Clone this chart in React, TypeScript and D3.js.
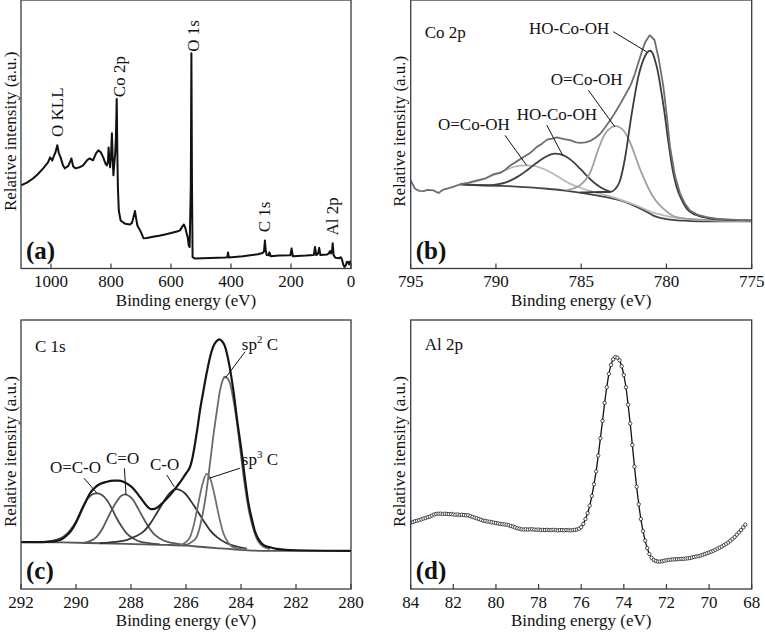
import React from "react";
import * as d3 from "d3";

const FONT = "Liberation Serif";
type Pt = [number, number];

// ---------------- (a) survey ----------------
const SURVEY: Pt[] = [
  [1100, 31.0], [1080, 32.0], [1059, 33.6], [1045, 35.0], [1026, 37.3], [1010, 39.5], [1003, 41.4],
  [996, 40.2], [990, 42.0], [985, 43.3], [979, 45.9], [974, 43.0], [968, 41.4], [960, 38.4],
  [954, 37.3], [948, 37.8], [943, 38.1], [937, 39.5], [932, 41.0], [926, 38.0], [918, 37.3],
  [905, 37.7], [893, 38.4], [880, 40.3], [871, 41.0], [860, 40.3], [850, 42.9], [842, 44.0],
  [834, 43.3], [826, 41.4], [818, 39.0], [814, 38.4], [810, 40.0], [808, 45.1], [805, 39.5],
  [803, 37.7], [800, 42.0], [797, 50.4], [794, 40.0], [792, 34.7], [789, 39.0], [786, 43.0],
  [784, 47.8], [782, 57.0], [781, 63.1], [780, 55.0], [779, 44.0], [777, 30.2], [774, 21.6],
  [768, 17.9], [760, 17.2], [753, 16.7], [737, 16.4], [730, 17.0], [726, 18.7], [720, 21.4],
  [716, 18.5], [712, 16.0], [709, 15.4], [703, 14.2], [698, 13.0], [692, 11.3], [680, 11.4],
  [660, 11.8], [640, 12.2], [620, 12.7], [600, 13.2], [580, 13.8], [570, 14.2], [563, 15.5],
  [557, 16.4], [552, 15.0], [548, 13.1], [544, 11.5], [541, 8.6], [538, 8.0], [534, 30],
  [532, 80.2], [530, 30], [528, 4.2], [520, 3.7], [470, 3.9], [420, 4.1], [412, 4.2], [410, 6.0],
  [407, 4.1], [360, 4.6], [310, 5.3], [295, 5.8], [290, 6.3], [287, 10.4], [284, 6.5], [281, 5.0],
  [275, 4.9], [272, 6.0], [268, 4.6], [240, 4.8], [202, 4.9], [198, 7.5], [194, 4.6], [150, 4.8],
  [124, 5.0], [120, 8.0], [116, 5.0], [110, 5.5], [106, 7.7], [102, 5.0], [80, 5.2], [74, 5.6],
  [70, 6.5], [66, 5.6], [63, 7.0], [61, 9.4], [58, 5.0], [52, 4.0], [40, 3.8], [34, 4.2], [30, 3.4],
  [26, 1.5], [22, 0.6], [18, 1.0], [14, 2.4], [10, 2.5], [6, 1.5], [3, 2.6], [0, 1.7],
];
const SURVEY_TICKS = [1000, 800, 600, 400, 200, 0];
const SURVEY_LABELS: { text: string; at: Pt }[] = [
  { text: "O KLL", at: [959, 49] },
  { text: "Co 2p", at: [754, 63.8] },
  { text: "O 1s", at: [507, 80.7] },
  { text: "C 1s", at: [269, 13.5] },
  { text: "Al 2p", at: [44, 12.3] },
];

// ---------------- (b) Co 2p ----------------
const CO_RAW: Pt[] = [
  [795, 32.8], [794.75, 29.7], [794.5, 28.9], [794.25, 28.8], [794.0, 29.3], [793.67, 29.1],
  [793.37, 28.1], [793.08, 29.4], [792.6, 30.2], [792.1, 31.3], [791.6, 32.0], [791.1, 32.8],
  [790.6, 33.6], [790.14, 35.1], [789.75, 35.6], [789.45, 36.8], [789.16, 38.4], [788.8, 39.8],
  [788.38, 41.5], [788.0, 43.0], [787.6, 45.3], [787.3, 46.5], [787.0, 48.0], [786.7, 48.4],
  [786.43, 48.8], [786.0, 48.2], [785.65, 47.8], [785.3, 47.0], [785.06, 46.8], [784.75, 47.0],
  [784.47, 47.5], [784.15, 48.8], [783.88, 50.2], [783.6, 52.5], [783.3, 55.2], [783.0, 58.2],
  [782.7, 61.4], [782.4, 64.8], [782.1, 68.3], [781.85, 72.5], [781.63, 77.0], [781.43, 81.0],
  [781.24, 84.4], [780.98, 86.9], [780.7, 85.1], [780.45, 78.0], [780.18, 67.7], [780.0, 58.0],
  [779.79, 45.3], [779.5, 34.5], [779.2, 27.9], [778.9, 24.0], [778.62, 21.6], [778.2, 20.1],
  [777.64, 19.1], [777.0, 18.5], [776.4, 18.3], [775.7, 18.0], [775.0, 17.9],
];
const CO_BG: Pt[] = [
  [792.1, 31.3], [791, 31.0], [790, 30.8], [789, 30.6], [788, 30.2], [787, 29.7], [786.05, 29.1],
  [785, 28.2], [784.1, 27.2], [783.4, 26.4], [782.7, 25.4], [782.1, 24.0], [781.55, 22.4],
  [781.1, 20.9], [780.8, 19.8], [780.3, 18.8], [779.8, 18.2], [779, 17.8], [778.2, 17.6], [775, 17.6],
];
const CO_HO_781: Pt[] = [
  [785.06, 28.3], [784.48, 28.4], [783.9, 28.5], [783.31, 28.5], [783.0, 29.6], [782.72, 32.8],
  [782.53, 37.8], [782.38, 43.0], [782.24, 49.0], [782.09, 55.5], [781.94, 61.4], [781.8, 66.5],
  [781.65, 71.4], [781.5, 75.0], [781.36, 77.6], [781.15, 80.3], [780.96, 81.1], [780.8, 80.0],
  [780.67, 77.6], [780.52, 73.8], [780.38, 68.9], [780.23, 63.0], [780.08, 56.5], [779.94, 49.5],
  [779.79, 42.8], [779.6, 35.5], [779.4, 30.3], [779.1, 25.5], [778.81, 22.3], [778.3, 20.0],
  [777.84, 19.1], [777, 18.3], [775, 17.9],
];
const CO_OCO_783: Pt[] = [
  [785.85, 29.2], [785.45, 29.8], [785.07, 31.0], [784.75, 33.0], [784.48, 35.6], [784.28, 39.0],
  [784.09, 42.8], [783.9, 46.0], [783.7, 49.0], [783.5, 51.0], [783.31, 52.2], [783.1, 52.9],
  [782.96, 53.0], [782.75, 52.6], [782.53, 51.5], [782.33, 49.6], [782.14, 47.1], [781.94, 43.8],
  [781.74, 40.3], [781.55, 37.0], [781.36, 34.1], [781.05, 29.8], [780.77, 26.6], [780.45, 24.0],
  [780.18, 22.3], [779.8, 20.3], [779.4, 19.1], [778.7, 18.5], [778.03, 18.2], [776.5, 17.9], [775, 17.7],
];
const CO_HO_786: Pt[] = [
  [792.1, 31.3], [791.2, 31.1], [790.35, 31.0], [789.85, 31.4], [789.37, 32.2], [788.98, 33.3],
  [788.59, 34.7], [788.2, 36.5], [787.81, 38.4], [787.4, 40.3], [787.02, 41.8], [786.78, 42.5],
  [786.54, 42.8], [786.2, 42.5], [785.85, 41.5], [785.45, 39.6], [785.07, 37.2], [784.68, 34.6],
  [784.29, 32.2], [783.8, 30.0], [783.31, 28.6],
];
const CO_OCO_788: Pt[] = [
  [792.1, 31.3], [791.5, 32.0], [790.94, 32.8], [790.45, 34.0], [789.96, 35.3], [789.47, 36.6],
  [788.98, 37.8], [788.6, 38.3], [788.2, 38.4], [787.8, 38.2], [787.42, 37.6], [787.03, 36.6],
  [786.64, 35.3], [786.25, 33.8], [785.85, 32.2], [785.36, 30.8], [784.88, 29.7], [784.2, 28.4],
  [783.5, 27.2], [782.5, 25.2], [781.55, 22.9], [780.8, 20.8], [780.18, 19.8], [779.2, 18.7],
  [778.23, 18.2], [775, 17.6],
];
const CO_TICKS = [795, 790, 785, 780, 775];
const CO_LABELS: { text: string; at: Pt; from: Pt; to: Pt }[] = [
  { text: "HO-Co-OH", at: [788.06, 87.3], from: [783.12, 88.2], to: [781.16, 80.7] },
  { text: "O=Co-OH", at: [786.79, 68.3], from: [784.58, 66.4], to: [783.02, 52.7] },
  { text: "HO-Co-OH", at: [788.78, 55.2], from: [787.02, 53.4], to: [786.09, 42.2] },
  { text: "O=Co-OH", at: [793.4, 51.5], from: [789.47, 49.6], to: [788.2, 38.4] },
];

// ---------------- (c) C 1s ----------------
const C_ENV: Pt[] = [
  [292, 17.4], [291.5, 17.4], [290.95, 17.6], [290.7, 17.9], [290.52, 18.5], [290.35, 19.8],
  [290.16, 21.9], [289.97, 25.3], [289.79, 29.4], [289.64, 32.6], [289.49, 35.6], [289.3, 37.8],
  [289.13, 39.0], [288.9, 39.8], [288.64, 40.3], [288.45, 40.3], [288.28, 39.9], [288.1, 38.9],
  [287.92, 37.4], [287.74, 35.1], [287.55, 32.5], [287.4, 30.6], [287.28, 29.7], [287.14, 29.8],
  [287.0, 30.6], [286.8, 32.5], [286.58, 34.9], [286.37, 37.6], [286.16, 40.5], [286.0, 43.0],
  [285.85, 45.5], [285.76, 49.0], [285.67, 54.2], [285.58, 60.0], [285.49, 66.5], [285.37, 73.5],
  [285.25, 80.2], [285.13, 86.0], [285.01, 90.1], [284.9, 92.0], [284.79, 92.8], [284.68, 92.0],
  [284.58, 90.1], [284.43, 83.5], [284.28, 74.0], [284.13, 62.0], [283.97, 50.4], [283.85, 40.5],
  [283.73, 31.9], [283.6, 25.8], [283.49, 21.3], [283.35, 18.3], [283.19, 16.4], [282.95, 15.5],
  [282.7, 14.9], [282, 14.4], [280, 14.2],
];
const C_BG: Pt[] = [
  [292, 17.4], [290.5, 17.3], [289.13, 17.0], [287.9, 16.7], [286.7, 16.4], [286.0, 16.1],
  [285.49, 15.7], [284.9, 15.2], [284.28, 14.7], [283.6, 14.3], [283.1, 14.2], [280, 14.2],
];
const C_OCO: Pt[] = [
  [291.19, 17.4], [290.8, 18.1], [290.46, 19.4], [290.2, 22.0], [289.97, 25.7], [289.8, 29.5],
  [289.61, 33.1], [289.43, 35.0], [289.25, 35.6], [289.07, 35.0], [288.88, 33.1], [288.7, 30.0],
  [288.52, 26.3], [288.34, 23.2], [288.16, 20.7], [287.9, 18.7], [287.67, 17.6], [287.3, 17.0], [286.95, 16.6],
];
const C_CdO: Pt[] = [
  [289.73, 17.1], [289.5, 17.8], [289.25, 19.4], [289.05, 22.2], [288.88, 25.7], [288.7, 29.4],
  [288.52, 32.5], [288.37, 34.5], [288.22, 35.2], [288.07, 34.6], [287.92, 33.1], [287.74, 29.9],
  [287.55, 26.3], [287.37, 23.2], [287.19, 20.7], [286.95, 18.8], [286.7, 17.6], [286.3, 16.8], [285.97, 16.4],
];
const C_CO: Pt[] = [
  [289.13, 17.0], [288.6, 17.5], [288.16, 18.2], [287.85, 19.5], [287.55, 21.3], [287.3, 24.3],
  [287.07, 28.1], [286.88, 31.3], [286.7, 34.3], [286.53, 36.3], [286.36, 37.1], [286.2, 36.7],
  [286.04, 35.6], [285.83, 32.8], [285.61, 29.4], [285.37, 25.5], [285.13, 21.9], [284.85, 19.1],
  [284.52, 17.0], [284.15, 15.8], [283.79, 15.0],
];
const C_SP3: Pt[] = [
  [286.22, 16.2], [286.02, 17.3], [285.85, 19.4], [285.7, 24.5], [285.55, 31.9], [285.4, 39.0],
  [285.25, 42.8], [285.1, 40.5], [284.95, 34.3], [284.8, 27.0], [284.64, 20.7], [284.46, 17.2],
  [284.28, 15.5], [283.79, 14.7],
];
const C_SP2: Pt[] = [
  [285.97, 16.4], [285.79, 17.5], [285.61, 19.4], [285.43, 26.0], [285.25, 36.8], [285.13, 46.5],
  [285.01, 56.6], [284.88, 66.0], [284.76, 74.0], [284.67, 77.5], [284.58, 78.9], [284.49, 78.3],
  [284.4, 76.5], [284.28, 70.5], [284.16, 62.8], [284.04, 53.0], [283.92, 43.0], [283.8, 34.3],
  [283.67, 26.9], [283.52, 21.3], [283.37, 17.6], [283.15, 15.5], [282.95, 14.8],
];
const C_TICKS = [292, 290, 288, 286, 284, 282, 280];
const C_LABELS: { text: string; sup?: string; tail?: string; at: Pt; from: Pt; to: Pt }[] = [
  { text: "sp", sup: "2", tail: " C", at: [283.97, 88.8], from: [283.85, 88.2], to: [284.58, 78.3] },
  { text: "sp", sup: "3", tail: " C", at: [283.97, 46.1], from: [284.04, 44.9], to: [285.15, 41.2] },
  { text: "C-O", at: [287.31, 44.2], from: [286.7, 42.4], to: [286.43, 38.0] },
  { text: "C=O", at: [288.91, 46.5], from: [288.24, 44.9], to: [288.18, 34.9] },
  { text: "O=C-O", at: [290.95, 43.0], from: [289.71, 41.2], to: [289.25, 35.8] },
];

// ---------------- (d) Al 2p ----------------
const AL_START_EV = 84.0;
const AL_STEP_EV = 0.1;
const AL_I = [
  24.7, 24.9, 25.2, 25.4, 25.6, 25.9, 26.2, 26.4, 26.7, 26.9,
  27.3, 27.7, 27.9, 28.0, 28.0, 27.9, 28.0, 27.9, 27.8, 27.9,
  27.7, 27.6, 27.7, 27.5, 27.6, 27.5, 27.4, 27.4, 27.1, 26.8,
  26.5, 26.3, 26.0, 25.7, 25.4, 25.3, 25.1, 25.0, 24.8, 24.7,
  24.5, 24.4, 24.2, 24.1, 24.0, 23.9, 23.7, 23.4, 23.2, 22.9,
  22.6, 22.4, 22.2, 22.1, 22.2, 22.1, 22.2, 22.2, 22.1, 22.0,
  22.1, 21.9, 22.0, 21.9, 22.0, 21.9, 21.9, 22.0, 21.9, 21.8,
  21.9, 21.9, 21.8, 21.9, 21.9, 21.8, 21.9, 22.0, 22.1, 22.4,
  23.0, 24.2, 26.0, 28.2, 31.0, 34.6, 38.9, 43.7, 49.6, 56.0,
  62.5, 69.2, 75.0, 80.0, 83.3, 85.4, 86.2, 86.0, 85.0, 82.8,
  79.5, 75.0, 68.5, 61.5, 53.5, 45.5, 38.0, 31.5, 26.0, 21.5,
  18.0, 15.2, 13.0, 11.6, 10.8, 10.4, 10.2, 10.2, 10.3, 10.5,
  10.7, 10.8, 10.9, 11.0, 11.0, 11.1, 11.1, 11.2, 11.2, 11.3,
  11.4, 11.5, 11.7, 11.9, 12.1, 12.2, 12.4, 12.7, 13.0, 13.3,
  13.6, 13.9, 14.2, 14.6, 15.0, 15.4, 15.8, 16.3, 16.8, 17.3,
  17.9, 18.6, 19.3, 20.2, 21.0, 21.9, 22.9, 23.9,
];
const AL_TICKS = [84, 82, 80, 78, 76, 74, 72, 70, 68];

// ---------------- layout ----------------
type Box = { left: number; right: number; top: number; bottom: number };
const BOX_A: Box = { left: 21, right: 351, top: 0, bottom: 268.5 };
const BOX_B: Box = { left: 410.7, right: 751.7, top: 0, bottom: 268.5 };
const BOX_C: Box = { left: 21, right: 351, top: 320, bottom: 589 };
const BOX_D: Box = { left: 410.7, right: 751.7, top: 320, bottom: 589 };

function makeScales(box: Box, xDom: [number, number]) {
  const x = d3.scaleLinear().domain(xDom).range([box.left, box.right]);
  const y = d3.scaleLinear().domain([0, 100]).range([box.bottom, box.top]);
  return { x, y };
}

function T(props: any) {
  return <text fontFamily={FONT} fill="#111" fontSize={17} {...props} />;
}

function Frame({ box, id, x, ticks, yTitle, tag, children }: any) {
  return (
    <g>
      <defs>
        <clipPath id={id}>
          <rect x={box.left} y={box.top} width={box.right - box.left} height={box.bottom - box.top} />
        </clipPath>
      </defs>
      <g clipPath={`url(#${id})`}>{children}</g>
      <rect x={box.left} y={box.top} width={box.right - box.left} height={box.bottom - box.top}
        fill="none" stroke="#3a3a3a" strokeWidth={1.3} />
      {ticks.map((t: number) => (
        <g key={t}>
          <line x1={x(t)} x2={x(t)} y1={box.bottom} y2={box.bottom - 5} stroke="#3a3a3a" strokeWidth={1.2} />
          <T x={x(t)} y={box.bottom + 18.5} textAnchor="middle">{t}</T>
        </g>
      ))}
      <T x={(box.left + box.right) / 2} y={box.bottom + 37} textAnchor="middle">Binding energy (eV)</T>
      <T transform={`translate(${box.left - 5.5},${(box.top + box.bottom) / 2 - 3}) rotate(-90)`}
        textAnchor="middle">{yTitle}</T>
      <T x={box.left + 5} y={box.bottom - 10} fontSize={25} fontWeight="bold">{tag}</T>
    </g>
  );
}

export default function App() {
  const A = makeScales(BOX_A, [1100, 0]);
  const B = makeScales(BOX_B, [795, 775]);
  const C = makeScales(BOX_C, [292, 280]);
  const D = makeScales(BOX_D, [84, 68]);

  const lineOf = (s: { x: any; y: any }, curve: any = d3.curveLinear) =>
    d3.line<Pt>().x((d) => s.x(d[0])).y((d) => s.y(d[1])).curve(curve);

  const la = lineOf(A);
  const lb = lineOf(B, d3.curveMonotoneX);
  const lc = lineOf(C, d3.curveMonotoneX);
  const ld = lineOf(D, d3.curveMonotoneX);

  const alPts: Pt[] = AL_I.map((v, i) => [AL_START_EV - i * AL_STEP_EV, v]);

  return (
    <svg width={765} height={633} viewBox="0 0 765 633"
      style={{ position: "absolute", left: 0, top: 0, background: "#fff" }}>
      <rect x={0} y={0} width={765} height={633} fill="#fff" />

      {/* (a) */}
      <Frame box={BOX_A} id="clipA" x={A.x} ticks={SURVEY_TICKS} yTitle="Relative intensity (a.u.)" tag="(a)">
        <path d={la(SURVEY) || ""} fill="none" stroke="#111" strokeWidth={2} strokeLinejoin="round" />
      </Frame>
      {SURVEY_LABELS.map((l) => (
        <T key={l.text} transform={`translate(${A.x(l.at[0])},${A.y(l.at[1])}) rotate(-90)`}>{l.text}</T>
      ))}

      {/* (b) */}
      <Frame box={BOX_B} id="clipB" x={B.x} ticks={CO_TICKS} yTitle="Relative itensity (a.u.)" tag="(b)">
        <path d={lb(CO_BG) || ""} fill="none" stroke="#454545" strokeWidth={1.8} />
        <path d={lb(CO_OCO_788) || ""} fill="none" stroke="#b8b8b8" strokeWidth={1.8} />
        <path d={lb(CO_HO_786) || ""} fill="none" stroke="#404040" strokeWidth={1.8} />
        <path d={lb(CO_OCO_783) || ""} fill="none" stroke="#a0a0a0" strokeWidth={1.8} />
        <path d={lb(CO_HO_781) || ""} fill="none" stroke="#3c3c3c" strokeWidth={1.8} />
        <path d={lineOf(B)(CO_RAW) || ""} fill="none" stroke="#6e6e6e" strokeWidth={1.8} strokeLinejoin="round" />
      </Frame>
      <T x={BOX_B.left + 14} y={BOX_B.top + 38}>Co 2p</T>
      {CO_LABELS.map((l, i) => (
        <g key={i}>
          <T x={B.x(l.at[0])} y={B.y(l.at[1])}>{l.text}</T>
          <line x1={B.x(l.from[0])} y1={B.y(l.from[1])} x2={B.x(l.to[0])} y2={B.y(l.to[1])} stroke="#111" strokeWidth={1} />
        </g>
      ))}

      {/* (c) */}
      <Frame box={BOX_C} id="clipC" x={C.x} ticks={C_TICKS} yTitle="Relative itensity (a.u.)" tag="(c)">
        <path d={lc(C_BG) || ""} fill="none" stroke="#555" strokeWidth={1.8} />
        <path d={lc(C_OCO) || ""} fill="none" stroke="#4c4c4c" strokeWidth={1.8} />
        <path d={lc(C_CdO) || ""} fill="none" stroke="#5a5a5a" strokeWidth={1.8} />
        <path d={lc(C_CO) || ""} fill="none" stroke="#333" strokeWidth={1.8} />
        <path d={lc(C_SP3) || ""} fill="none" stroke="#707070" strokeWidth={1.8} />
        <path d={lc(C_SP2) || ""} fill="none" stroke="#6a6a6a" strokeWidth={1.8} />
        <path d={lc(C_ENV) || ""} fill="none" stroke="#151515" strokeWidth={2.2} />
      </Frame>
      <T x={BOX_C.left + 14} y={BOX_C.top + 32}>C 1s</T>
      {C_LABELS.map((l, i) => (
        <g key={i}>
          <T x={C.x(l.at[0])} y={C.y(l.at[1])}>
            {l.text}
            {l.sup ? <tspan dy={-7} fontSize={11}>{l.sup}</tspan> : null}
            {l.tail ? <tspan dy={7}>{l.tail}</tspan> : null}
          </T>
          <line x1={C.x(l.from[0])} y1={C.y(l.from[1])} x2={C.x(l.to[0])} y2={C.y(l.to[1])} stroke="#111" strokeWidth={1} />
        </g>
      ))}

      {/* (d) */}
      <Frame box={BOX_D} id="clipD" x={D.x} ticks={AL_TICKS} yTitle="Relative itensity (a.u.)" tag="(d)">
        <path d={ld(alPts) || ""} fill="none" stroke="#111" strokeWidth={1.3} />
        {alPts.map((p, i) => (
          <circle key={i} cx={D.x(p[0])} cy={D.y(p[1])} r={1.7} fill="#fff" stroke="#222" strokeWidth={0.8} />
        ))}
      </Frame>
      <T x={BOX_D.left + 14} y={BOX_D.top + 30}>Al 2p</T>
    </svg>
  );
}
